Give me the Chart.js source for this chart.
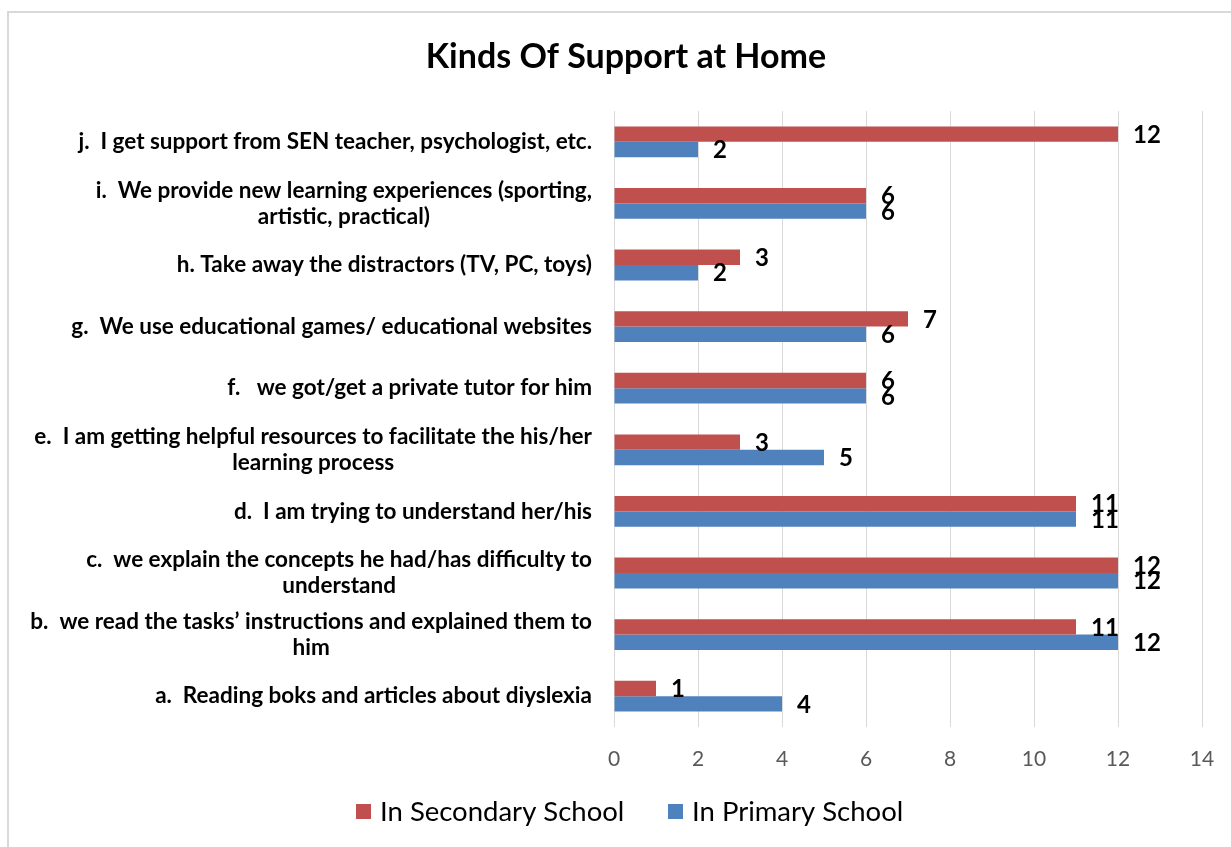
<!DOCTYPE html>
<html>
<head>
<meta charset="utf-8">
<script src="https://cdn.jsdelivr.net/npm/chart.js@4/dist/chart.umd.min.js"></script>
<style>
  html, body { margin: 0; padding: 0; background: #ffffff; }
  #wrap { width: 1231px; height: 847px; position: relative; }
</style>
</head>
<body>
<div id="wrap"><canvas id="chart" width="1231" height="847"></canvas></div>
<script>
// Categories, top to bottom
const categories = [
  ['j.  I get support from SEN teacher, psychologist, etc.'],
  ['i.  We provide new learning experiences (sporting,', 'artistic, practical)'],
  ['h. Take away the distractors (TV, PC, toys)'],
  ['g.  We use educational games/ educational websites'],
  ['f.   we got/get a private tutor for him'],
  ['e.  I am getting helpful resources to facilitate the his/her', 'learning process'],
  ['d.  I am trying to understand her/his'],
  ['c.  we explain the concepts he had/has difficulty to', 'understand'],
  ['b.  we read the tasks\u2019 instructions and explained them to', 'him'],
  ['a.  Reading boks and articles about diyslexia']
];
const secondarySchool = [12, 6, 3, 7, 6, 3, 11, 12, 11, 1];
const primarySchool   = [2, 6, 2, 6, 6, 5, 11, 12, 12, 4];
const xTicks = [0, 2, 4, 6, 8, 10, 12, 14];
const seriesNames = ['In Secondary School', 'In Primary School'];
const chartTitle = 'Kinds Of Support at Home';

const RED = '#C0504D';
const BLUE = '#4F81BD';
const FONT = 'Lato, "Open Sans", sans-serif';

// Frame, title, category labels, tick labels, value labels and legend
const decorations = {
  id: 'decorations',
  beforeDraw(chart) {
    const ctx = chart.ctx;
    ctx.save();
    ctx.fillStyle = '#ffffff';
    ctx.fillRect(0, 0, chart.width, chart.height);
    ctx.strokeStyle = '#d9d9d9';
    ctx.lineWidth = 2;
    ctx.beginPath();
    ctx.moveTo(8, chart.height);
    ctx.lineTo(8, 12);
    ctx.lineTo(chart.width, 12);
    ctx.stroke();
    ctx.restore();
  },
  afterDraw(chart) {
    const ctx = chart.ctx;
    const area = chart.chartArea;
    const xs = chart.scales.x;
    const ys = chart.scales.y;
    ctx.save();

    // title
    ctx.fillStyle = '#000000';
    ctx.font = 'bold 34px ' + FONT;
    ctx.textAlign = 'center';
    ctx.textBaseline = 'middle';
    ctx.fillText(chartTitle, 626, 57);

    // category labels: each block right-aligned, lines centred within it
    ctx.font = 'bold 22.5px ' + FONT;
    const rightEdge = area.left - 22;
    const lineH = 26;
    categories.forEach((lines, i) => {
      const cy = ys.getPixelForValue(i);
      const w = Math.max(...lines.map(l => ctx.measureText(l).width));
      const cx = rightEdge - w / 2;
      const y0 = cy - (lines.length - 1) * lineH / 2;
      lines.forEach((l, k) => ctx.fillText(l, cx, y0 + k * lineH));
    });

    // x tick labels
    ctx.fillStyle = '#595959';
    ctx.font = '21px ' + FONT;
    xs.ticks.forEach(t => {
      ctx.fillText(String(t.value), xs.getPixelForValue(t.value), area.bottom + 32);
    });

    // value labels at the end of each bar
    ctx.fillStyle = '#000000';
    ctx.font = 'bold 24px ' + FONT;
    ctx.textAlign = 'left';
    chart.data.datasets.forEach((ds, di) => {
      const meta = chart.getDatasetMeta(di);
      meta.data.forEach((bar, i) => {
        ctx.fillText(String(ds.data[i]), bar.x + 15, bar.y + 1);
      });
    });

    // legend
    ctx.font = '27.5px ' + FONT;
    ctx.textBaseline = 'middle';
    const legendY = 812;
    const items = [
      { x: 356, color: RED, text: seriesNames[0] },
      { x: 668, color: BLUE, text: seriesNames[1] }
    ];
    items.forEach(it => {
      ctx.fillStyle = it.color;
      ctx.fillRect(it.x, legendY - 8, 15, 15);
      ctx.fillStyle = '#000000';
      ctx.fillText(it.text, it.x + 24, legendY);
    });

    ctx.restore();
  }
};

new Chart(document.getElementById('chart'), {
  type: 'bar',
  data: {
    labels: categories,
    datasets: [
      { label: seriesNames[0], data: secondarySchool, backgroundColor: RED, borderWidth: 0 },
      { label: seriesNames[1], data: primarySchool, backgroundColor: BLUE, borderWidth: 0 }
    ]
  },
  options: {
    indexAxis: 'y',
    responsive: false,
    animation: false,
    events: [],
    datasets: { bar: { categoryPercentage: 0.5, barPercentage: 1.0 } },
    layout: { padding: { left: 614, right: 29, top: 111, bottom: 120 } },
    plugins: { legend: { display: false }, title: { display: false }, tooltip: { enabled: false } },
    scales: {
      x: {
        min: 0, max: 14,
        afterBuildTicks: (s) => { s.ticks = xTicks.map(v => ({ value: v })); },
        ticks: { display: false },
        grid: { color: '#d9d9d9', lineWidth: 1, drawTicks: false },
        border: { display: false }
      },
      y: {
        ticks: { display: false },
        grid: { display: false, drawTicks: false },
        border: { display: false }
      }
    }
  },
  plugins: [decorations]
});
</script>
</body>
</html>
